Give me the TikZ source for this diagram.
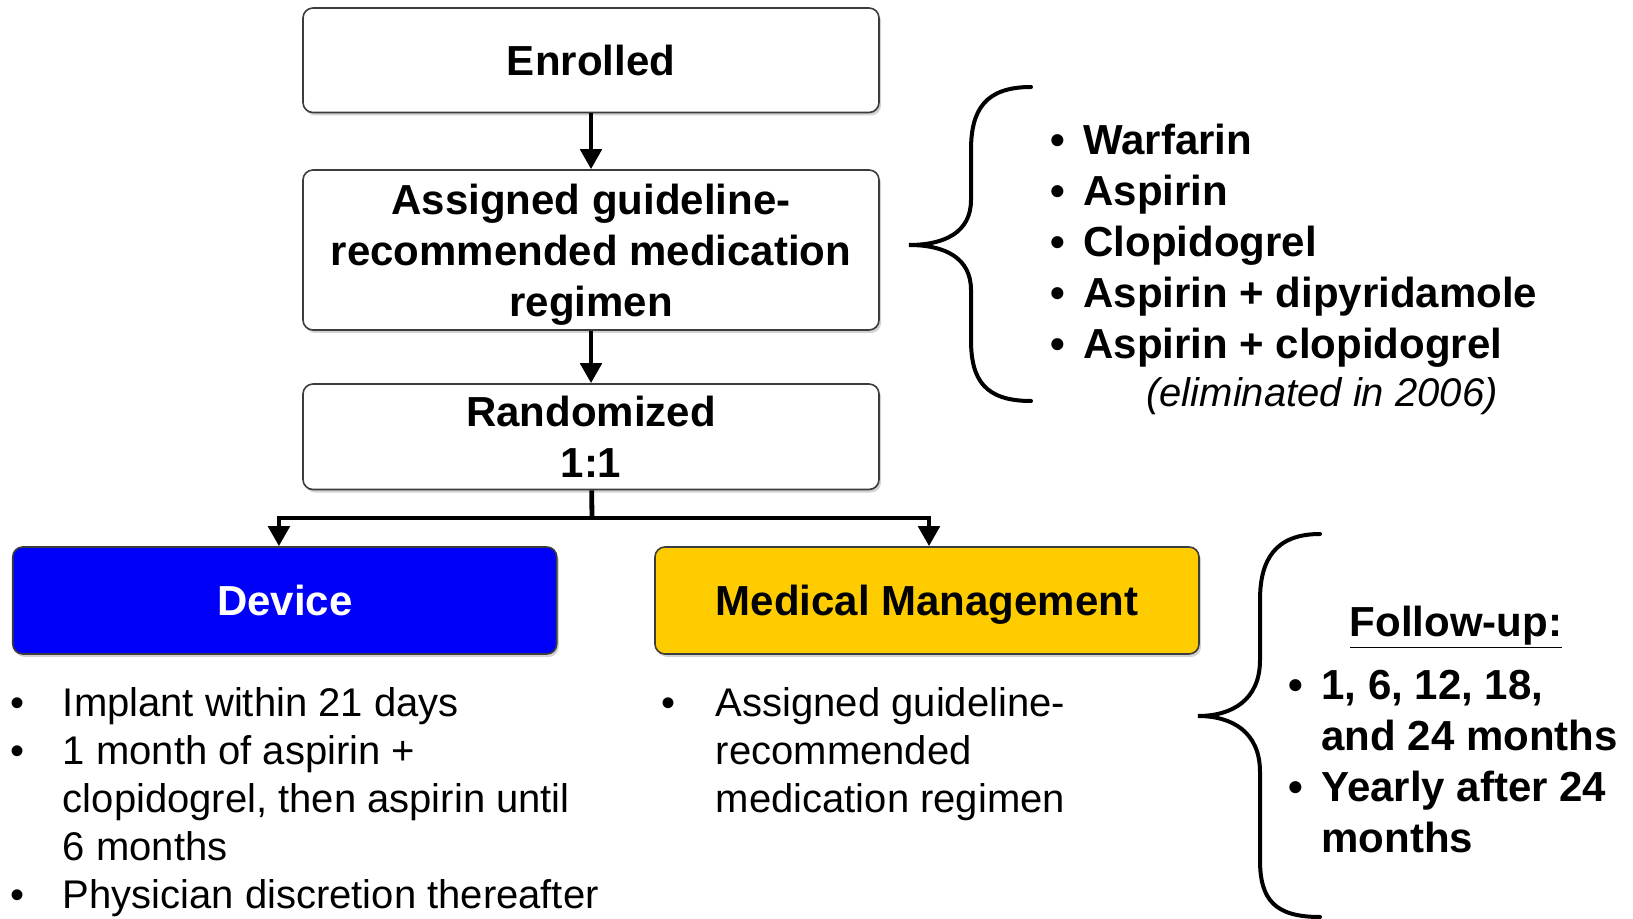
\documentclass[tikz,border=0pt]{standalone}
\usepackage{fontspec}
\setmainfont{Liberation Sans}
\usetikzlibrary{arrows.meta,shadows}
\definecolor{devblue}{RGB}{0,0,250}
\definecolor{medgold}{RGB}{255,204,0}
\definecolor{rimgray}{RGB}{60,60,60}
\tikzset{
    flowbox/.style={draw=rimgray, line width=0.8pt, rounded corners=5pt, fill=white,
        minimum width=288pt, inner sep=0pt, align=center,
        font=\fontsize{21}{25.5}\selectfont\bfseries,
        drop shadow={shadow xshift=1pt, shadow yshift=-1.5pt, opacity=0.35}},
    armbox/.style={flowbox, minimum width=272pt, minimum height=53.5pt},
    arr/.style={line width=2.4pt, -{Triangle[width=10.5pt,length=10pt]}},
    curly/.style={line width=2pt, line cap=round},
    plainlist/.style={inner sep=0pt, font=\fontsize{20}{24}\selectfont},
    boldlist/.style={inner sep=0pt, font=\fontsize{21}{25.5}\selectfont\bfseries}
}
\begin{document}
\begin{tikzpicture}[x=0.5pt,y=-0.5pt]
        \useasboundingbox (0,0) rectangle (1633,919);
        % flow
        \node[flowbox, minimum height=52.25pt] (enrol) at (591,60.25) {Enrolled};
        \node[flowbox, minimum height=80pt, text depth=0pt] (assign) at (591,250) {Assigned guideline-\\recommended medication\\regimen};
        \node[flowbox, minimum height=52.75pt] (rand) at (591,436.75) {Randomized\\1:1};
        \node[armbox, fill=devblue, text=white] (dev) at (284.75,600.5) {Device};
        \node[armbox, fill=medgold, text depth=0pt] (med) at (927,600.5) {Medical Management};
        \coordinate (split) at (592,518);

        \draw[arr] (enrol) -- (assign);
        \draw[arr] (assign) -- (rand);
        \draw[line width=2.4pt] (rand) -- (split);
        \draw[arr] (split) -| ([xshift=-2.9pt]dev.north);
        \draw[arr] (split) -| ([xshift=1pt]med.north);

        % regimen options
        \draw[curly] (1031,87) .. controls (985,87) and (971,110) .. (971,150) -- (971,200)
            .. controls (971,232) and (945,245) .. (909,245)
            .. controls (945,245) and (971,258) .. (971,290) -- (971,340)
            .. controls (971,380) and (985,401) .. (1031,401);
        \node[boldlist, anchor=base west] (drugs) at (1049.6,154.6) {\begin{tabular}[t]{@{}p{16.7pt}@{}l@{}}
            \textbullet & Warfarin\\
            \textbullet & Aspirin\\
            \textbullet & Clopidogrel\\
            \textbullet & Aspirin + dipyridamole\\
            \textbullet & Aspirin + clopidogrel
        \end{tabular}};
        \node[plainlist, font=\fontsize{20}{24}\selectfont\itshape, anchor=base west] (elim) at (1146,407) {(eliminated in 2006)};

        % arm details
        \node[plainlist, anchor=base west] (devlist) at (10,716.5) {\begin{tabular}[t]{@{}p{26.25pt}@{}l@{}}
            \textbullet & Implant within 21 days\\
            \textbullet & 1 month of aspirin +\\
             & clopidogrel, then aspirin until\\
             & 6 months\\
            \textbullet & Physician discretion thereafter
        \end{tabular}};
        \node[plainlist, anchor=base west] (medlist) at (661,716.5) {\begin{tabular}[t]{@{}p{27.25pt}@{}l@{}}
            \textbullet & Assigned guideline-\\
             & recommended\\
             & medication regimen
        \end{tabular}};

        % follow-up
        \draw[curly] (1320,534) .. controls (1275,534) and (1260,560) .. (1260,600) -- (1260,660)
            .. controls (1260,700) and (1232,716) .. (1198,716)
            .. controls (1232,716) and (1260,732) .. (1260,772) -- (1260,860)
            .. controls (1260,900) and (1275,917) .. (1320,917);
        \node[boldlist, anchor=base] (fuhead) at (1456,636) {\underline{Follow-up:}};
        \node[boldlist, anchor=base west] (fulist) at (1287.6,699) {\begin{tabular}[t]{@{}p{16.7pt}@{}l@{}}
            \textbullet & 1, 6, 12, 18,\\
             & and 24 months\\
            \textbullet & Yearly after 24\\
             & months
        \end{tabular}};
\end{tikzpicture}
\end{document}
